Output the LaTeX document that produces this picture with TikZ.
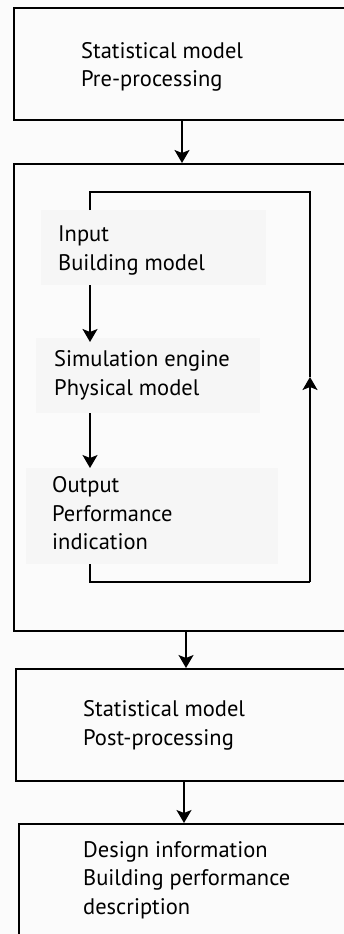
\documentclass[tikz,border=0pt]{standalone}
\usepackage{fontspec}
\setmainfont{PT Sans}
\usetikzlibrary{arrows.meta}
\definecolor{bgc}{RGB}{251,251,251}
\definecolor{regc}{RGB}{246,246,246}
\begin{document}
\begin{tikzpicture}[x=1pt,y=-1pt,
  box/.style={draw, line width=1.7pt, anchor=north west, inner sep=0pt, minimum width=347pt},
  lbl/.style={anchor=base west, align=left, inner sep=0pt, font=\fontsize{22.5}{28.2}\selectfont},
  reg/.style={fill=regc, draw=none, anchor=north west, inner sep=0pt},
  arr/.style={-{Stealth[length=13pt,width=15pt,inset=3pt]}, line width=1.5pt},
  ln/.style={line width=1.4pt}]
\useasboundingbox (0,0) rectangle (344,934);
\clip (0,0) rectangle (344,934);
\fill[bgc] (0,0) rectangle (344,934);
% outer boxes
\node[box, minimum height=112pt] (b1) at (13,7) {};
\node[box, minimum height=467pt] (b2) at (13,163) {};
\node[box, minimum height=112pt] (b3) at (15,668) {};
\node[box, minimum height=150pt] (b4) at (18,823) {};
% regions
\node[reg, minimum width=225pt, minimum height=75pt] (in) at (41,210) {};
\node[reg, minimum width=224pt, minimum height=75pt] (sim) at (36,338) {};
\node[reg, minimum width=252pt, minimum height=96pt] (out) at (26,468) {};
% texts (anchored at the baseline of their last line)
\node[lbl] (t1) at (81,86.7) {Statistical model\\Pre-processing};
\node[lbl] (inT) at (58,270) {Input\\Building model};
\node[lbl] (simT) at (54,395) {Simulation engine\\Physical model};
\node[lbl] (outT) at (52,549.3) {Output\\Performance\\indication};
\node[lbl] (t3) at (83,745) {Statistical model\\Post-processing};
\node[lbl] (t4) at (83,914) {Design information\\Building performance\\description};
% arrows between outer boxes
\coordinate (a1) at (182,0);
\coordinate (a2) at (186,0);
\coordinate (a3) at (184,0);
\draw[arr] (b1.south -| a1) -- (b2.north -| a1);
\draw[arr] (b2.south -| a2) -- (b3.north -| a2);
\draw[arr] (b3.south -| a3) -- (b4.north -| a3);
% loop
\coordinate (tl) at (90,192);
\coordinate (tr) at (310,192);
\coordinate (br) at (310,582);
\coordinate (bl) at (90,582);
\coordinate (mk) at (310,377);
\draw[ln] (in.north -| tl) -- (tl) -- (tr) -- (mk);
\draw[arr] (br) -- (mk);
\draw[ln] (out.south -| bl) -- (bl) -- (br);
\draw[arr] (in.south -| tl) -- ([yshift=-4pt]sim.north -| tl);
\draw[arr] (sim.south -| tl) -- (out.north -| tl);
\end{tikzpicture}
\end{document}
